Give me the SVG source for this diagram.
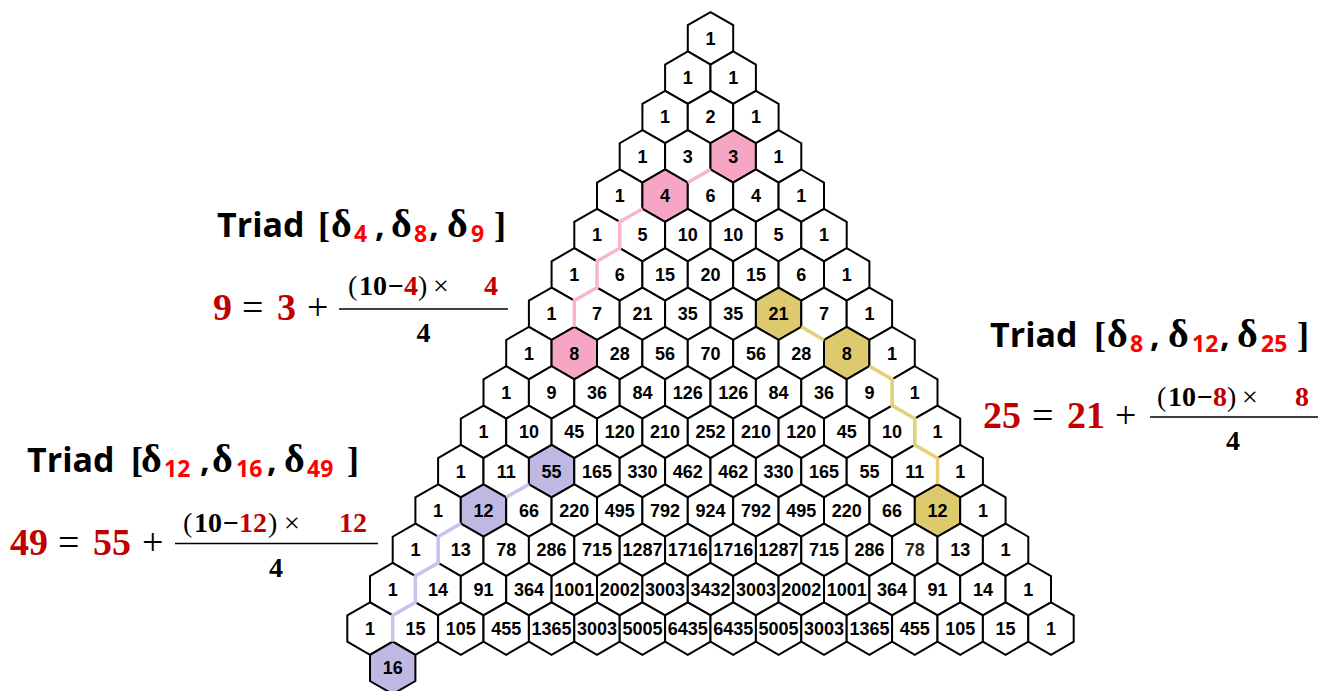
<svg xmlns="http://www.w3.org/2000/svg" xmlns:xlink="http://www.w3.org/1999/xlink" width="1327" height="691" viewBox="0 0 1327 691">
<style>
.hx{fill:#fff;stroke:#000;stroke-width:2;stroke-linejoin:miter}
.pk{fill:#F6A6C4;stroke:#000;stroke-width:2}
.gd{fill:#DDC96E;stroke:#000;stroke-width:2}
.lv{fill:#BFB8E3;stroke:#000;stroke-width:2}
.nodes text{font-family:"Liberation Sans",Arial,sans-serif;font-weight:bold;font-size:18px;text-anchor:middle;fill:#000}
.conn path{fill:none;stroke-width:3.5;stroke-linejoin:miter}
.title{font-family:"Open Sans","Noto Sans","Liberation Sans",sans-serif;font-weight:bold;font-size:34px;fill:#000}
.dl{font-family:"Liberation Serif","Times New Roman",serif;font-weight:bold;font-size:40px}
.br{font-family:"Liberation Serif","Times New Roman",serif;font-weight:bold;font-size:36px}
.sb{font-family:"Open Sans","Noto Sans","Liberation Sans",sans-serif;font-weight:bold;font-size:23px;fill:#FF0000}
.eq{font-family:"Liberation Serif","Times New Roman",serif;font-weight:bold;fill:#000}
.big{font-size:38px}
.sm{font-size:28px}
.op{font-weight:normal}
.dr{fill:#C00000}
.fl{stroke:#000;stroke-width:1.6}
</style>
<defs>
<polygon id="h" points="0,-26.2 22.7,-13.1 22.7,13.1 0,26.2 -22.7,13.1 -22.7,-13.1"/>
</defs>
<rect width="1327" height="691" fill="#fff"/>
<g class="nodes">
<g transform="translate(710.5,38.3)">
<g id="n0-0"><use href="#h" class="hx"/><text y="6.4">1</text></g>
</g>
<g transform="translate(687.8,77.65)">
<g id="n1-0"><use href="#h" class="hx"/><text y="6.4">1</text></g>
<g id="n1-1" transform="translate(45.4)"><use href="#h" class="hx"/><text y="6.4">1</text></g>
</g>
<g transform="translate(665.1,117)">
<g id="n2-0"><use href="#h" class="hx"/><text y="6.4">1</text></g>
<g id="n2-1" transform="translate(45.4)"><use href="#h" class="hx"/><text y="6.4">2</text></g>
<g id="n2-2" transform="translate(90.8)"><use href="#h" class="hx"/><text y="6.4">1</text></g>
</g>
<g transform="translate(642.4,156.35)">
<g id="n3-0"><use href="#h" class="hx"/><text y="6.4">1</text></g>
<g id="n3-1" transform="translate(45.4)"><use href="#h" class="hx"/><text y="6.4">3</text></g>
<g id="n3-2" transform="translate(90.8)"><use href="#h" class="pk"/><text y="6.4">3</text></g>
<g id="n3-3" transform="translate(136.2)"><use href="#h" class="hx"/><text y="6.4">1</text></g>
</g>
<g transform="translate(619.7,195.7)">
<g id="n4-0"><use href="#h" class="hx"/><text y="6.4">1</text></g>
<g id="n4-1" transform="translate(45.4)"><use href="#h" class="pk"/><text y="6.4">4</text></g>
<g id="n4-2" transform="translate(90.8)"><use href="#h" class="hx"/><text y="6.4">6</text></g>
<g id="n4-3" transform="translate(136.2)"><use href="#h" class="hx"/><text y="6.4">4</text></g>
<g id="n4-4" transform="translate(181.6)"><use href="#h" class="hx"/><text y="6.4">1</text></g>
</g>
<g transform="translate(597,235.05)">
<g id="n5-0"><use href="#h" class="hx"/><text y="6.4">1</text></g>
<g id="n5-1" transform="translate(45.4)"><use href="#h" class="hx"/><text y="6.4">5</text></g>
<g id="n5-2" transform="translate(90.8)"><use href="#h" class="hx"/><text y="6.4">10</text></g>
<g id="n5-3" transform="translate(136.2)"><use href="#h" class="hx"/><text y="6.4">10</text></g>
<g id="n5-4" transform="translate(181.6)"><use href="#h" class="hx"/><text y="6.4">5</text></g>
<g id="n5-5" transform="translate(227)"><use href="#h" class="hx"/><text y="6.4">1</text></g>
</g>
<g transform="translate(574.3,274.4)">
<g id="n6-0"><use href="#h" class="hx"/><text y="6.4">1</text></g>
<g id="n6-1" transform="translate(45.4)"><use href="#h" class="hx"/><text y="6.4">6</text></g>
<g id="n6-2" transform="translate(90.8)"><use href="#h" class="hx"/><text y="6.4">15</text></g>
<g id="n6-3" transform="translate(136.2)"><use href="#h" class="hx"/><text y="6.4">20</text></g>
<g id="n6-4" transform="translate(181.6)"><use href="#h" class="hx"/><text y="6.4">15</text></g>
<g id="n6-5" transform="translate(227)"><use href="#h" class="hx"/><text y="6.4">6</text></g>
<g id="n6-6" transform="translate(272.4)"><use href="#h" class="hx"/><text y="6.4">1</text></g>
</g>
<g transform="translate(551.6,313.75)">
<g id="n7-0"><use href="#h" class="hx"/><text y="6.4">1</text></g>
<g id="n7-1" transform="translate(45.4)"><use href="#h" class="hx"/><text y="6.4">7</text></g>
<g id="n7-2" transform="translate(90.8)"><use href="#h" class="hx"/><text y="6.4">21</text></g>
<g id="n7-3" transform="translate(136.2)"><use href="#h" class="hx"/><text y="6.4">35</text></g>
<g id="n7-4" transform="translate(181.6)"><use href="#h" class="hx"/><text y="6.4">35</text></g>
<g id="n7-5" transform="translate(227)"><use href="#h" class="gd"/><text y="6.4">21</text></g>
<g id="n7-6" transform="translate(272.4)"><use href="#h" class="hx"/><text y="6.4">7</text></g>
<g id="n7-7" transform="translate(317.8)"><use href="#h" class="hx"/><text y="6.4">1</text></g>
</g>
<g transform="translate(528.9,353.1)">
<g id="n8-0"><use href="#h" class="hx"/><text y="6.4">1</text></g>
<g id="n8-1" transform="translate(45.4)"><use href="#h" class="pk"/><text y="6.4">8</text></g>
<g id="n8-2" transform="translate(90.8)"><use href="#h" class="hx"/><text y="6.4">28</text></g>
<g id="n8-3" transform="translate(136.2)"><use href="#h" class="hx"/><text y="6.4">56</text></g>
<g id="n8-4" transform="translate(181.6)"><use href="#h" class="hx"/><text y="6.4">70</text></g>
<g id="n8-5" transform="translate(227)"><use href="#h" class="hx"/><text y="6.4">56</text></g>
<g id="n8-6" transform="translate(272.4)"><use href="#h" class="hx"/><text y="6.4">28</text></g>
<g id="n8-7" transform="translate(317.8)"><use href="#h" class="gd"/><text y="6.4">8</text></g>
<g id="n8-8" transform="translate(363.2)"><use href="#h" class="hx"/><text y="6.4">1</text></g>
</g>
<g transform="translate(506.2,392.45)">
<g id="n9-0"><use href="#h" class="hx"/><text y="6.4">1</text></g>
<g id="n9-1" transform="translate(45.4)"><use href="#h" class="hx"/><text y="6.4">9</text></g>
<g id="n9-2" transform="translate(90.8)"><use href="#h" class="hx"/><text y="6.4">36</text></g>
<g id="n9-3" transform="translate(136.2)"><use href="#h" class="hx"/><text y="6.4">84</text></g>
<g id="n9-4" transform="translate(181.6)"><use href="#h" class="hx"/><text y="6.4">126</text></g>
<g id="n9-5" transform="translate(227)"><use href="#h" class="hx"/><text y="6.4">126</text></g>
<g id="n9-6" transform="translate(272.4)"><use href="#h" class="hx"/><text y="6.4">84</text></g>
<g id="n9-7" transform="translate(317.8)"><use href="#h" class="hx"/><text y="6.4">36</text></g>
<g id="n9-8" transform="translate(363.2)"><use href="#h" class="hx"/><text y="6.4">9</text></g>
<g id="n9-9" transform="translate(408.6)"><use href="#h" class="hx"/><text y="6.4">1</text></g>
</g>
<g transform="translate(483.5,431.8)">
<g id="n10-0"><use href="#h" class="hx"/><text y="6.4">1</text></g>
<g id="n10-1" transform="translate(45.4)"><use href="#h" class="hx"/><text y="6.4">10</text></g>
<g id="n10-2" transform="translate(90.8)"><use href="#h" class="hx"/><text y="6.4">45</text></g>
<g id="n10-3" transform="translate(136.2)"><use href="#h" class="hx"/><text y="6.4">120</text></g>
<g id="n10-4" transform="translate(181.6)"><use href="#h" class="hx"/><text y="6.4">210</text></g>
<g id="n10-5" transform="translate(227)"><use href="#h" class="hx"/><text y="6.4">252</text></g>
<g id="n10-6" transform="translate(272.4)"><use href="#h" class="hx"/><text y="6.4">210</text></g>
<g id="n10-7" transform="translate(317.8)"><use href="#h" class="hx"/><text y="6.4">120</text></g>
<g id="n10-8" transform="translate(363.2)"><use href="#h" class="hx"/><text y="6.4">45</text></g>
<g id="n10-9" transform="translate(408.6)"><use href="#h" class="hx"/><text y="6.4">10</text></g>
<g id="n10-10" transform="translate(454)"><use href="#h" class="hx"/><text y="6.4">1</text></g>
</g>
<g transform="translate(460.8,471.15)">
<g id="n11-0"><use href="#h" class="hx"/><text y="6.4">1</text></g>
<g id="n11-1" transform="translate(45.4)"><use href="#h" class="hx"/><text y="6.4">11</text></g>
<g id="n11-2" transform="translate(90.8)"><use href="#h" class="lv"/><text y="6.4">55</text></g>
<g id="n11-3" transform="translate(136.2)"><use href="#h" class="hx"/><text y="6.4">165</text></g>
<g id="n11-4" transform="translate(181.6)"><use href="#h" class="hx"/><text y="6.4">330</text></g>
<g id="n11-5" transform="translate(227)"><use href="#h" class="hx"/><text y="6.4">462</text></g>
<g id="n11-6" transform="translate(272.4)"><use href="#h" class="hx"/><text y="6.4">462</text></g>
<g id="n11-7" transform="translate(317.8)"><use href="#h" class="hx"/><text y="6.4">330</text></g>
<g id="n11-8" transform="translate(363.2)"><use href="#h" class="hx"/><text y="6.4">165</text></g>
<g id="n11-9" transform="translate(408.6)"><use href="#h" class="hx"/><text y="6.4">55</text></g>
<g id="n11-10" transform="translate(454)"><use href="#h" class="hx"/><text y="6.4">11</text></g>
<g id="n11-11" transform="translate(499.4)"><use href="#h" class="hx"/><text y="6.4">1</text></g>
</g>
<g transform="translate(438.1,510.5)">
<g id="n12-0"><use href="#h" class="hx"/><text y="6.4">1</text></g>
<g id="n12-1" transform="translate(45.4)"><use href="#h" class="lv"/><text y="6.4">12</text></g>
<g id="n12-2" transform="translate(90.8)"><use href="#h" class="hx"/><text y="6.4">66</text></g>
<g id="n12-3" transform="translate(136.2)"><use href="#h" class="hx"/><text y="6.4">220</text></g>
<g id="n12-4" transform="translate(181.6)"><use href="#h" class="hx"/><text y="6.4">495</text></g>
<g id="n12-5" transform="translate(227)"><use href="#h" class="hx"/><text y="6.4">792</text></g>
<g id="n12-6" transform="translate(272.4)"><use href="#h" class="hx"/><text y="6.4">924</text></g>
<g id="n12-7" transform="translate(317.8)"><use href="#h" class="hx"/><text y="6.4">792</text></g>
<g id="n12-8" transform="translate(363.2)"><use href="#h" class="hx"/><text y="6.4">495</text></g>
<g id="n12-9" transform="translate(408.6)"><use href="#h" class="hx"/><text y="6.4">220</text></g>
<g id="n12-10" transform="translate(454)"><use href="#h" class="hx"/><text y="6.4">66</text></g>
<g id="n12-11" transform="translate(499.4)"><use href="#h" class="gd"/><text y="6.4">12</text></g>
<g id="n12-12" transform="translate(544.8)"><use href="#h" class="hx"/><text y="6.4">1</text></g>
</g>
<g transform="translate(415.4,549.85)">
<g id="n13-0"><use href="#h" class="hx"/><text y="6.4">1</text></g>
<g id="n13-1" transform="translate(45.4)"><use href="#h" class="hx"/><text y="6.4">13</text></g>
<g id="n13-2" transform="translate(90.8)"><use href="#h" class="hx"/><text y="6.4">78</text></g>
<g id="n13-3" transform="translate(136.2)"><use href="#h" class="hx"/><text y="6.4">286</text></g>
<g id="n13-4" transform="translate(181.6)"><use href="#h" class="hx"/><text y="6.4">715</text></g>
<g id="n13-5" transform="translate(227)"><use href="#h" class="hx"/><text y="6.4">1287</text></g>
<g id="n13-6" transform="translate(272.4)"><use href="#h" class="hx"/><text y="6.4">1716</text></g>
<g id="n13-7" transform="translate(317.8)"><use href="#h" class="hx"/><text y="6.4">1716</text></g>
<g id="n13-8" transform="translate(363.2)"><use href="#h" class="hx"/><text y="6.4">1287</text></g>
<g id="n13-9" transform="translate(408.6)"><use href="#h" class="hx"/><text y="6.4">715</text></g>
<g id="n13-10" transform="translate(454)"><use href="#h" class="hx"/><text y="6.4">286</text></g>
<g id="n13-11" transform="translate(499.4)"><use href="#h" class="hx"/><text y="6.4" style="fill:#2e2616">78</text></g>
<g id="n13-12" transform="translate(544.8)"><use href="#h" class="hx"/><text y="6.4">13</text></g>
<g id="n13-13" transform="translate(590.2)"><use href="#h" class="hx"/><text y="6.4">1</text></g>
</g>
<g transform="translate(392.7,589.2)">
<g id="n14-0"><use href="#h" class="hx"/><text y="6.4">1</text></g>
<g id="n14-1" transform="translate(45.4)"><use href="#h" class="hx"/><text y="6.4">14</text></g>
<g id="n14-2" transform="translate(90.8)"><use href="#h" class="hx"/><text y="6.4">91</text></g>
<g id="n14-3" transform="translate(136.2)"><use href="#h" class="hx"/><text y="6.4">364</text></g>
<g id="n14-4" transform="translate(181.6)"><use href="#h" class="hx"/><text y="6.4">1001</text></g>
<g id="n14-5" transform="translate(227)"><use href="#h" class="hx"/><text y="6.4">2002</text></g>
<g id="n14-6" transform="translate(272.4)"><use href="#h" class="hx"/><text y="6.4">3003</text></g>
<g id="n14-7" transform="translate(317.8)"><use href="#h" class="hx"/><text y="6.4">3432</text></g>
<g id="n14-8" transform="translate(363.2)"><use href="#h" class="hx"/><text y="6.4">3003</text></g>
<g id="n14-9" transform="translate(408.6)"><use href="#h" class="hx"/><text y="6.4">2002</text></g>
<g id="n14-10" transform="translate(454)"><use href="#h" class="hx"/><text y="6.4">1001</text></g>
<g id="n14-11" transform="translate(499.4)"><use href="#h" class="hx"/><text y="6.4">364</text></g>
<g id="n14-12" transform="translate(544.8)"><use href="#h" class="hx"/><text y="6.4">91</text></g>
<g id="n14-13" transform="translate(590.2)"><use href="#h" class="hx"/><text y="6.4">14</text></g>
<g id="n14-14" transform="translate(635.6)"><use href="#h" class="hx"/><text y="6.4">1</text></g>
</g>
<g transform="translate(370,628.55)">
<g id="n15-0"><use href="#h" class="hx"/><text y="6.4">1</text></g>
<g id="n15-1" transform="translate(45.4)"><use href="#h" class="hx"/><text y="6.4">15</text></g>
<g id="n15-2" transform="translate(90.8)"><use href="#h" class="hx"/><text y="6.4">105</text></g>
<g id="n15-3" transform="translate(136.2)"><use href="#h" class="hx"/><text y="6.4">455</text></g>
<g id="n15-4" transform="translate(181.6)"><use href="#h" class="hx"/><text y="6.4">1365</text></g>
<g id="n15-5" transform="translate(227)"><use href="#h" class="hx"/><text y="6.4">3003</text></g>
<g id="n15-6" transform="translate(272.4)"><use href="#h" class="hx"/><text y="6.4">5005</text></g>
<g id="n15-7" transform="translate(317.8)"><use href="#h" class="hx"/><text y="6.4">6435</text></g>
<g id="n15-8" transform="translate(363.2)"><use href="#h" class="hx"/><text y="6.4">6435</text></g>
<g id="n15-9" transform="translate(408.6)"><use href="#h" class="hx"/><text y="6.4">5005</text></g>
<g id="n15-10" transform="translate(454)"><use href="#h" class="hx"/><text y="6.4">3003</text></g>
<g id="n15-11" transform="translate(499.4)"><use href="#h" class="hx"/><text y="6.4">1365</text></g>
<g id="n15-12" transform="translate(544.8)"><use href="#h" class="hx"/><text y="6.4">455</text></g>
<g id="n15-13" transform="translate(590.2)"><use href="#h" class="hx"/><text y="6.4">105</text></g>
<g id="n15-14" transform="translate(635.6)"><use href="#h" class="hx"/><text y="6.4">15</text></g>
<g id="n15-15" transform="translate(681)"><use href="#h" class="hx"/><text y="6.4">1</text></g>
</g>
<g transform="translate(347.3,667.9)">
<g id="n16-1" transform="translate(45.4)"><use href="#h" class="lv"/><text y="6.4">16</text></g>
</g>
</g>
<g class="conn">
<path id="path-pink" stroke="#F8B6CE" d="M710.5,169.45 L687.8,182.55 M642.4,208.8 L619.7,221.9 V248.15 L597,261.25 V287.5 L574.3,300.6 V326.9"/>
<path id="path-gold" stroke="#E4D175" d="M801.3,326.85 L824,339.95 M869.4,366.2 L892.1,379.3 V405.55 L914.8,418.65 V444.9 L937.5,458 V484.3"/>
<path id="path-lavender" stroke="#C8C2EC" d="M528.9,484.25 L506.2,497.35 M460.8,523.6 L438.1,536.7 V562.95 L415.4,576.05 V602.3 L392.7,615.4 V641.7"/>
</g>
<g id="triad1">
<text y="236.7"><tspan class="title" x="217">Triad</tspan><tspan class="br" x="318">[</tspan><tspan class="dl" x="331">δ</tspan><tspan class="sb" x="354" y="242">4</tspan><tspan class="title" x="375" y="236.7">,</tspan><tspan class="dl" x="391">δ</tspan><tspan class="sb" x="414" y="242">8</tspan><tspan class="title" x="429" y="236.7">,</tspan><tspan class="dl" x="447">δ</tspan><tspan class="sb" x="471" y="242">9</tspan><tspan class="br" x="494" y="236.7">]</tspan></text>
<text class="eq" y="320"><tspan class="big dr" x="213">9</tspan><tspan class="big op" x="242">=</tspan><tspan class="big dr" x="277">3</tspan><tspan class="big op" x="307">+</tspan></text>
<text class="eq sm" y="295"><tspan class="op" x="348">(</tspan><tspan x="359">10</tspan><tspan x="388">−</tspan><tspan class="dr" x="404">4</tspan><tspan class="op" x="418">)</tspan><tspan class="op" x="433">×</tspan><tspan class="dr" x="484">4</tspan></text>
<line class="fl" x1="339" y1="309" x2="508" y2="309"/>
<text class="eq sm" x="423.5" y="342" text-anchor="middle">4</text>
</g>
<g id="triad2">
<text y="346.7"><tspan class="title" x="990">Triad</tspan><tspan class="br" x="1094">[</tspan><tspan class="dl" x="1107">δ</tspan><tspan class="sb" x="1130" y="352">8</tspan><tspan class="title" x="1150" y="346.7">,</tspan><tspan class="dl" x="1168">δ</tspan><tspan class="sb" x="1192" y="352">12</tspan><tspan class="title" x="1220" y="346.7">,</tspan><tspan class="dl" x="1237">δ</tspan><tspan class="sb" x="1261" y="352">25</tspan><tspan class="br" x="1297" y="346.7">]</tspan></text>
<text class="eq" y="428"><tspan class="big dr" x="983">25</tspan><tspan class="big op" x="1032">=</tspan><tspan class="big dr" x="1067">21</tspan><tspan class="big op" x="1115">+</tspan></text>
<text class="eq sm" y="406"><tspan class="op" x="1157">(</tspan><tspan x="1168">10</tspan><tspan x="1197">−</tspan><tspan class="dr" x="1213">8</tspan><tspan class="op" x="1227">)</tspan><tspan class="op" x="1242">×</tspan><tspan class="dr" x="1295">8</tspan></text>
<line class="fl" x1="1150" y1="417" x2="1318" y2="417"/>
<text class="eq sm" x="1233" y="450" text-anchor="middle">4</text>
</g>
<g id="triad3">
<text y="471.7"><tspan class="title" x="27">Triad</tspan><tspan class="br" x="131">[</tspan><tspan class="dl" x="141">δ</tspan><tspan class="sb" x="164" y="477">12</tspan><tspan class="title" x="200" y="471.7">,</tspan><tspan class="dl" x="212">δ</tspan><tspan class="sb" x="236" y="477">16</tspan><tspan class="title" x="267" y="471.7">,</tspan><tspan class="dl" x="284">δ</tspan><tspan class="sb" x="307" y="477">49</tspan><tspan class="br" x="347" y="471.7">]</tspan></text>
<text class="eq" y="555"><tspan class="big dr" x="10">49</tspan><tspan class="big op" x="58">=</tspan><tspan class="big dr" x="93">55</tspan><tspan class="big op" x="142">+</tspan></text>
<text class="eq sm" y="532"><tspan class="op" x="183">(</tspan><tspan x="194">10</tspan><tspan x="223">−</tspan><tspan class="dr" x="239">12</tspan><tspan class="op" x="268">)</tspan><tspan class="op" x="284">×</tspan><tspan class="dr" x="339">12</tspan></text>
<line class="fl" x1="175" y1="543.5" x2="378" y2="543.5"/>
<text class="eq sm" x="276" y="577" text-anchor="middle">4</text>
</g>
</svg>
